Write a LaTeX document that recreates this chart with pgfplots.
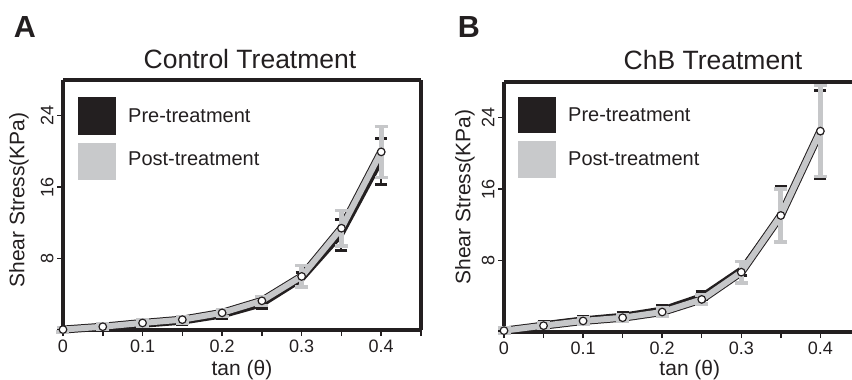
\documentclass[border=0pt]{standalone}
\usepackage{fontspec}
\setmainfont{Liberation Sans}
\newfontfamily\panelfont{Liberation Sans Bold}
\usepackage{pgfplots}
\usepackage{pgfplotstable}
\pgfplotsset{compat=1.18}
\definecolor{mydark}{RGB}{35,31,32}
\definecolor{mygray}{RGB}{198,199,201}
\definecolor{leggray}{RGB}{200,201,203}

\pgfplotstableread{
x y e
0.00 0.0 0.10
0.05 0.2 0.10
0.10 0.5 0.15
0.15 0.85 0.20
0.20 1.55 0.30
0.25 2.8 0.40
0.30 5.6 0.85
0.35 10.6 1.75
0.40 18.9 2.60
}\Apre
\pgfplotstableread{
x y e
0.00 0.05 0.25
0.05 0.37 0.30
0.10 0.79 0.35
0.15 1.16 0.35
0.20 1.92 0.40
0.25 3.27 0.50
0.30 6.0 1.20
0.35 11.4 2.00
0.40 19.95 2.85
}\Apost
\pgfplotstableread{
x y e
0.00 0.0 0.10
0.05 0.95 0.20
0.10 1.5 0.25
0.15 1.9 0.25
0.20 2.6 0.35
0.25 4.1 0.45
0.30 7.1 0.75
0.35 13.2 3.10
0.40 22.1 4.90
}\Bpre
\pgfplotstableread{
x y e
0.00 0.15 0.30
0.05 0.71 0.30
0.10 1.24 0.35
0.15 1.60 0.35
0.20 2.24 0.45
0.25 3.65 0.50
0.30 6.70 1.20
0.35 13.05 2.95
0.40 22.5 5.10
}\Bpost

\pgfplotsset{
  myax/.style={
    scale only axis, height=250pt,
    ymin=0, ymax=28, xmin=0,
    ytick={8,16,24},
    xtick={0,0.1,0.2,0.3,0.4},
    minor xtick={0.05,0.15,0.25,0.35,0.45},
    separate axis lines,
    tick align=outside, tick pos=left,
    major tick length=6pt, minor tick length=6pt,
    every tick/.style={mydark, line width=1.5pt},
    every minor tick/.style={mydark, line width=1.5pt},
    axis line style={mydark, line width=3.5pt},
    every outer x axis line/.append style={mydark, line width=3.5pt},
    every outer y axis line/.append style={mydark, line width=3.5pt},
    /pgf/number format/assume math mode=true,
    /pgf/number format/fixed,
    tick label style={font=\fontsize{18}{20}\selectfont, text=mydark},
    yticklabel style={rotate=90, anchor=south},
    label style={font=\fontsize{21}{24}\selectfont, text=mydark},
    clip=false,
  },
  prestyle/.style={mydark, line width=4.5pt, no marks,
    error bars/.cd, y dir=both, y explicit,
    error bar style={line width=2pt, color=mydark},
    error mark options={rotate=90, mark size=6pt, line width=3pt, color=mydark}},
  postout/.style={mydark, line width=8pt, no marks},
  postin/.style={mygray, line width=6pt, no marks,
    error bars/.cd, y dir=both, y explicit,
    error bar style={line width=5pt, color=mygray},
    error mark options={rotate=90, mark size=6.5pt, line width=3.5pt, color=mygray}},
  circ/.style={only marks, mark=*, mark size=3.8pt,
    mark options={fill=white, draw=mydark, line width=1.2pt}},
}

\begin{document}
\begin{tikzpicture}[x=1pt,y=1pt]
\useasboundingbox (0pt,0pt) rectangle (852pt,-380pt);

% Panel A
\begin{axis}[myax, at={(63pt,-330pt)}, anchor=south west,
  width=358pt, xmax=0.45,
  axis x line*=box, axis y line*=box,
  xlabel={tan (θ)}, ylabel={Shear Stress(KPa)},
  xlabel style={at={(axis description cs:0.5,-0.16)}, anchor=center},
  ylabel style={at={(axis description cs:-0.123,0.52)}, anchor=center, rotate=0},
]
\addplot[prestyle] table[x=x,y=y,y error=e]{\Apre};
\addplot[postout] table[x=x,y=y]{\Apost};
\addplot[postin] table[x=x,y=y,y error=e]{\Apost};
\addplot[circ] table[x=x,y=y]{\Apost};
\end{axis}

% Panel B
\begin{axis}[myax, at={(504pt,-332pt)}, anchor=south west,
  width=348pt, xmax=0.44,
  axis x line*=box, axis y line*=left,
  xtick pos=bottom, ytick pos=left,
  xlabel={tan (θ)}, ylabel={Shear Stress(KPa)},
  xlabel style={at={(axis description cs:0.534,-0.152)}, anchor=center},
  ylabel style={at={(axis description cs:-0.112,0.54)}, anchor=center, rotate=0},
]
\addplot[prestyle] table[x=x,y=y,y error=e]{\Bpre};
\addplot[postout] table[x=x,y=y]{\Bpost};
\addplot[postin] table[x=x,y=y,y error=e]{\Bpost};
\addplot[circ] table[x=x,y=y]{\Bpost};
\end{axis}

% Titles and panel letters
\node[text=mydark, font=\fontsize{26.5}{30}\selectfont] at (250pt,-59pt) {Control Treatment};
\node[text=mydark, font=\fontsize{26.5}{30}\selectfont] at (713pt,-60pt) {ChB Treatment};
\node[text=mydark, inner sep=0pt, anchor=base] at (25pt,-37.7pt) {\panelfont\fontsize{30.5}{34}\selectfont A};
\node[text=mydark, inner sep=0pt, anchor=base] at (469pt,-37.7pt) {\panelfont\fontsize{30.5}{34}\selectfont B};

% Legends
\fill[mydark] (78pt,-97pt) rectangle (116pt,-135pt);
\fill[leggray] (78pt,-143pt) rectangle (116pt,-180pt);
\node[anchor=base west, inner sep=0pt, text=mydark, font=\fontsize{20}{24}\selectfont] at (128pt,-122.7pt) {Pre-treatment};
\node[anchor=base west, inner sep=0pt, text=mydark, font=\fontsize{20}{24}\selectfont] at (128pt,-165.7pt) {Post-treatment};
\fill[mydark] (518pt,-97pt) rectangle (556pt,-133pt);
\fill[leggray] (518pt,-141pt) rectangle (556pt,-178pt);
\node[anchor=base west, inner sep=0pt, text=mydark, font=\fontsize{20}{24}\selectfont] at (568pt,-121.7pt) {Pre-treatment};
\node[anchor=base west, inner sep=0pt, text=mydark, font=\fontsize{20}{24}\selectfont] at (568pt,-165pt) {Post-treatment};
\end{tikzpicture}
\end{document}
